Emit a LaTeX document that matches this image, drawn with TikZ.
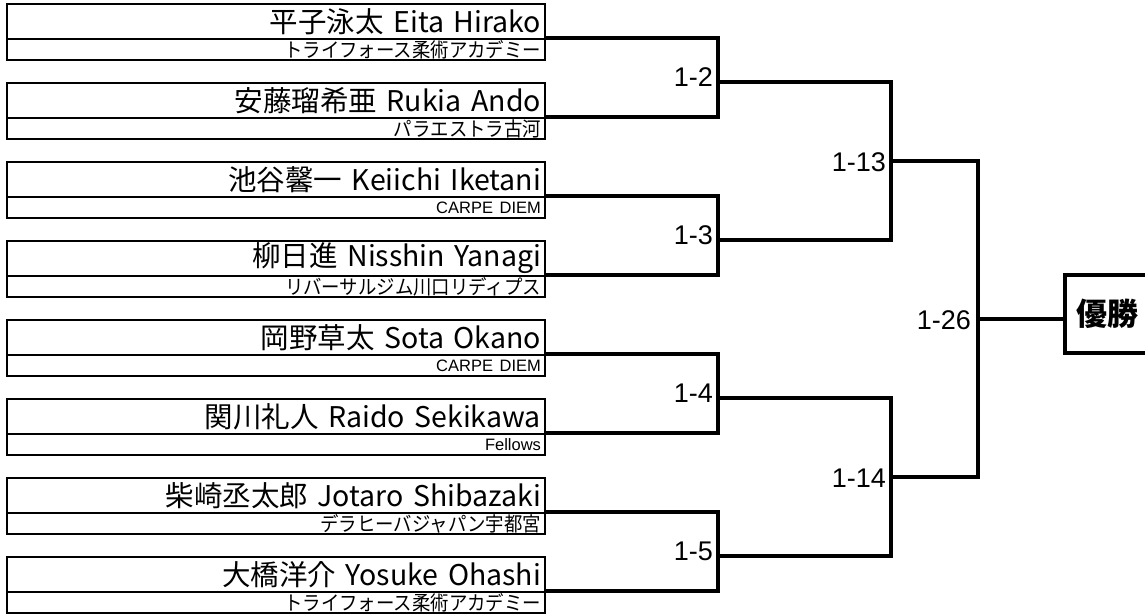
\documentclass[tikz,border=0pt]{standalone}
\usepackage{fontspec}
\setmainfont{Noto Sans CJK JP}
\newfontfamily\latinfont{Liberation Sans}
\newfontfamily\clubfont{Noto Sans CJK JP}[FakeStretch=0.92]
\tikzset{
  namebox/.style={draw, line width=2.2pt, minimum height=35pt, text width=530pt,
    inner xsep=4pt, inner ysep=0pt, align=right, font=\fontsize{28.5}{30}\selectfont},
  clubbox/.style={draw, line width=2.2pt, minimum height=21pt, text width=530pt,
    inner xsep=4pt, inner ysep=0pt, align=right, font=\clubfont\fontsize{20}{21}\selectfont},
  bracket/.style={draw, line width=4.5pt, line join=miter},
  lbl/.style={inner sep=0pt, anchor=east, font=\latinfont\fontsize{27}{29}\selectfont}
}
\newcommand{\latclub}[1]{{\latinfont\fontsize{16.5}{17}\selectfont #1}}
\begin{document}
\begin{tikzpicture}[x=1pt,y=-1pt]
\useasboundingbox (0,0) rectangle (1145,613);
\clip (0,0) rectangle (1145,613);
\fill[white] (0,0) rectangle (1145,613);
\foreach \i/\nm/\cl in {
  0/{平子泳太 Eita Hirako}/{トライフォース柔術アカデミー},
  1/{安藤瑠希亜 Rukia Ando}/{パラエストラ古河},
  2/{池谷馨一 Keiichi Iketani}/{\latclub{CARPE DIEM}},
  3/{柳日進 Nisshin Yanagi}/{リバーサルジム川口リディプス},
  4/{岡野草太 Sota Okano}/{\latclub{CARPE DIEM}},
  5/{関川礼人 Raido Sekikawa}/{\latclub{Fellows}},
  6/{柴崎丞太郎 Jotaro Shibazaki}/{デラヒーバジャパン宇都宮},
  7/{大橋洋介 Yosuke Ohashi}/{トライフォース柔術アカデミー}} {
  \node[namebox] (p\i) at (276,{21.5+79*\i}) {\nm};
  \node[clubbox] (c\i) at (276,{49.5+79*\i}) {\cl};
}
\coordinate (r1) at (718,82);
\coordinate (r2) at (718,240);
\coordinate (r3) at (718,398);
\coordinate (r4) at (718,556);
\coordinate (s1) at (891,161);
\coordinate (s2) at (891,477);
\coordinate (f) at (978,319);
\node[draw, line width=3.5pt, minimum width=85pt, minimum height=78pt, inner sep=0pt,
  font=\bfseries\fontsize{31}{33}\selectfont] (win) at (1107.5,314) {優勝};
\draw[bracket] (c0.north east) -| (r1) |- (c1.north east);
\draw[bracket] (c2.north east) -| (r2) |- (c3.north east);
\draw[bracket] (c4.north east) -| (r3) |- (c5.north east);
\draw[bracket] (c6.north east) -| (r4) |- (c7.north east);
\draw[bracket] (r1) -| (s1) |- (r2);
\draw[bracket] (r3) -| (s2) |- (r4);
\draw[bracket] (s1) -| (f) |- (s2);
\draw[bracket] (f) -- (f -| win.west);
\node[lbl] (l2) at (713,77) {1-2};
\node[lbl] (l3) at (713,235) {1-3};
\node[lbl] (l4) at (713,393) {1-4};
\node[lbl] (l5) at (713,551) {1-5};
\node[lbl] (l13) at (886,162) {1-13};
\node[lbl] (l14) at (886,478) {1-14};
\node[lbl] (l26) at (971,320) {1-26};
\end{tikzpicture}
\end{document}
